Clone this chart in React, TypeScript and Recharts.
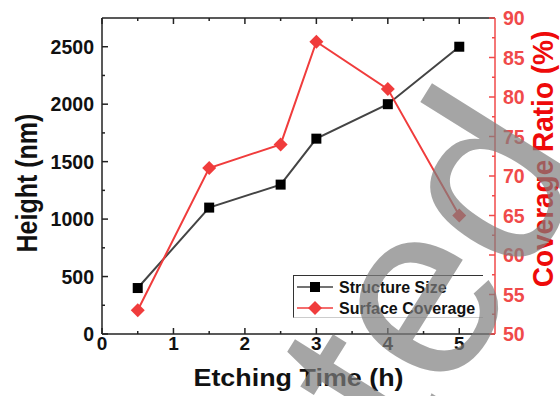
import React from 'react';
import { LineChart, Line, XAxis, YAxis, Legend } from 'recharts';

const FONT = '"Liberation Sans", Arial, Helvetica, sans-serif';
const RED = '#f03c3c';
const AXIS_RED = '#f04a4a';

// etching time (h)
const times = [0.5, 1.5, 2.5, 3, 4, 5];
// structure height (nm), left axis
const structureSize = [400, 1100, 1300, 1700, 2000, 2500];
// surface coverage (%), right axis
const surfaceCoverage = [53, 71, 74, 87, 81, 65];

const xTicks = [0, 0.5, 1, 1.5, 2, 2.5, 3, 3.5, 4, 4.5, 5];
const heightTicks = [0, 250, 500, 750, 1000, 1250, 1500, 1750, 2000, 2250, 2500];
const coverageTicks = [50, 52.5, 55, 57.5, 60, 62.5, 65, 67.5, 70, 72.5, 75, 77.5, 80, 82.5, 85, 87.5, 90];

const data = times.map((t, i) => ({
  t,
  size: structureSize[i],
  coverage: surfaceCoverage[i],
}));

const BottomTick = (props: any) => {
  const { x, y, payload } = props;
  const major = Number.isInteger(payload.value);
  return (
    <g>
      <line x1={x} x2={x} y1={y} y2={y - (major ? 6 : 3)} stroke="#222" strokeWidth={1.5} />
      {major && (
        <text x={x} y={y + 16} textAnchor="middle" fontSize={19} fontWeight="bold" fontFamily={FONT} fill="#111">
          {payload.value}
        </text>
      )}
    </g>
  );
};

const TopTick = (props: any) => {
  const { x, y, payload } = props;
  const major = Number.isInteger(payload.value);
  return <line x1={x} x2={x} y1={y} y2={y + (major ? 6 : 3)} stroke="#222" strokeWidth={1.5} />;
};

const LeftTick = (props: any) => {
  const { x, y, payload } = props;
  const major = payload.value % 500 === 0;
  return (
    <g>
      <line x1={x} x2={x + (major ? 6 : 3)} y1={y} y2={y} stroke="#222" strokeWidth={1.5} />
      {major && (
        <text x={x - 8} y={y + 7} textAnchor="end" fontSize={19.5} fontWeight="bold" fontFamily={FONT} fill="#111">
          {payload.value}
        </text>
      )}
    </g>
  );
};

const RightTick = (props: any) => {
  const { x, y, payload } = props;
  const major = payload.value % 5 === 0;
  return (
    <g>
      <line x1={x} x2={x - (major ? 6 : 3)} y1={y} y2={y} stroke={AXIS_RED} strokeWidth={1.5} />
      {major && (
        <text x={x + 8} y={y + 7} textAnchor="start" fontSize={19.5} fontWeight="bold" fontFamily={FONT} fill={AXIS_RED}>
          {payload.value}
        </text>
      )}
    </g>
  );
};

const SquareDot = (props: any) => {
  const { cx, cy } = props;
  if (cx == null || cy == null) return null;
  return <rect x={cx - 5} y={cy - 5} width={10} height={10} fill="#000" />;
};

const DiamondDot = (props: any) => {
  const { cx, cy } = props;
  if (cx == null || cy == null) return null;
  const r = 7;
  return <polygon points={`${cx},${cy - r} ${cx + r},${cy} ${cx},${cy + r} ${cx - r},${cy}`} fill={RED} />;
};

const LegendBox = (props: any) => {
  const { payload } = props;
  return (
    <div
      style={{
        width: 190,
        height: 43,
        boxSizing: 'border-box',
        borderTop: '1.5px solid #333',
        borderLeft: '1.5px solid #333',
        borderBottom: '1px solid #ccc',
        background: 'rgba(255,255,255,0.9)',
      }}
    >
      <svg width={188} height={41}>
        {(payload || []).map((p: any, i: number) => {
          const cy = 11 + i * 21;
          const square = p.dataKey === 'size';
          const color = square ? '#444' : RED;
          return (
            <g key={p.value}>
              <line x1={3} x2={39} y1={cy} y2={cy} stroke={color} strokeWidth={1.5} />
              {square ? (
                <rect x={16} y={cy - 5} width={10} height={10} fill="#000" />
              ) : (
                <polygon points={`21,${cy - 7} 28,${cy} 21,${cy + 7} 14,${cy}`} fill={RED} />
              )}
              <text x={45} y={cy + 6} fontSize={16} fontWeight="bold" fontFamily={FONT} fill="#111">
                {p.value}
              </text>
            </g>
          );
        })}
      </svg>
    </div>
  );
};

export default function App() {
  return (
    <div style={{ position: 'absolute', left: 0, top: 0, width: 560, height: 396, background: '#fff', overflow: 'hidden' }}>
      <LineChart width={560} height={396} data={data} margin={{ top: 17, right: 64, bottom: 61, left: 101 }}>
        <XAxis
          xAxisId="bottom"
          dataKey="t"
          type="number"
          domain={[0, 5.5]}
          ticks={xTicks}
          interval={0}
          height={1}
          tickSize={0}
          tickMargin={0}
          tickLine={false}
          axisLine={{ stroke: '#222', strokeWidth: 1.5 }}
          tick={<BottomTick />}
          label={{
            content: ({ viewBox }: any) => (
              <text
                x={viewBox.x + viewBox.width / 2}
                y={viewBox.y + 52}
                textAnchor="middle"
                fontSize={23}
                fontWeight="bold"
                fontFamily={FONT}
                fill="#111"
                textLength={210}
                lengthAdjust="spacingAndGlyphs"
              >
                Etching Time (h)
              </text>
            ),
          }}
        />
        <XAxis
          xAxisId="top"
          orientation="top"
          dataKey="t"
          type="number"
          domain={[0, 5.5]}
          ticks={xTicks}
          interval={0}
          height={1}
          tickSize={0}
          tickMargin={0}
          tickLine={false}
          axisLine={{ stroke: '#222', strokeWidth: 1.5 }}
          tick={<TopTick />}
        />
        <YAxis
          yAxisId="left"
          type="number"
          domain={[0, 2750]}
          ticks={heightTicks}
          interval={0}
          width={1}
          tickSize={0}
          tickMargin={0}
          tickLine={false}
          axisLine={{ stroke: '#222', strokeWidth: 1.5 }}
          tick={<LeftTick />}
          label={{
            content: ({ viewBox }: any) => (
              <text
                transform={`translate(${viewBox.x + viewBox.width - 65}, ${viewBox.y + 165}) rotate(-90) scale(1, 1.2)`}
                textAnchor="middle"
                fontSize={25}
                fontWeight="bold"
                fontFamily={FONT}
                fill="#111"
              >
                Height (nm)
              </text>
            ),
          }}
        />
        <YAxis
          yAxisId="right"
          orientation="right"
          type="number"
          domain={[50, 90]}
          ticks={coverageTicks}
          interval={0}
          width={1}
          tickSize={0}
          tickMargin={0}
          tickLine={false}
          axisLine={{ stroke: AXIS_RED, strokeWidth: 1.5 }}
          tick={<RightTick />}
          label={{
            content: ({ viewBox }: any) => (
              <text
                transform={`translate(${viewBox.x + 58}, ${viewBox.y + 141}) rotate(-90) scale(1, 1.08)`}
                textAnchor="middle"
                fontSize={28}
                fontWeight="bold"
                fontFamily={FONT}
                fill="#ee0a0a"
              >
                Coverage Ratio (%)
              </text>
            ),
          }}
        />
        <Legend
          layout="horizontal"
          verticalAlign="middle"
          align="center"
          content={<LegendBox />}
          wrapperStyle={{ left: 293, top: 275, width: 190, height: 43 }}
        />
        <Line
          xAxisId="bottom"
          yAxisId="left"
          dataKey="size"
          name="Structure Size"
          stroke="#444"
          strokeWidth={2}
          dot={<SquareDot />}
          activeDot={false}
          isAnimationActive={false}
        />
        <Line
          xAxisId="bottom"
          yAxisId="right"
          dataKey="coverage"
          name="Surface Coverage"
          stroke={RED}
          strokeWidth={2}
          dot={<DiamondDot />}
          activeDot={false}
          isAnimationActive={false}
        />
      </LineChart>
      <svg
        width={560}
        height={396}
        style={{ position: 'absolute', left: 0, top: 0, pointerEvents: 'none' }}
      >
        <text
          transform="translate(42, 1049) rotate(-58)"
          fontSize={250}
          fontFamily={FONT}
          fill="#7f7f7f"
          fillOpacity={0.7}
        >
          Accepted
        </text>
      </svg>
    </div>
  );
}
